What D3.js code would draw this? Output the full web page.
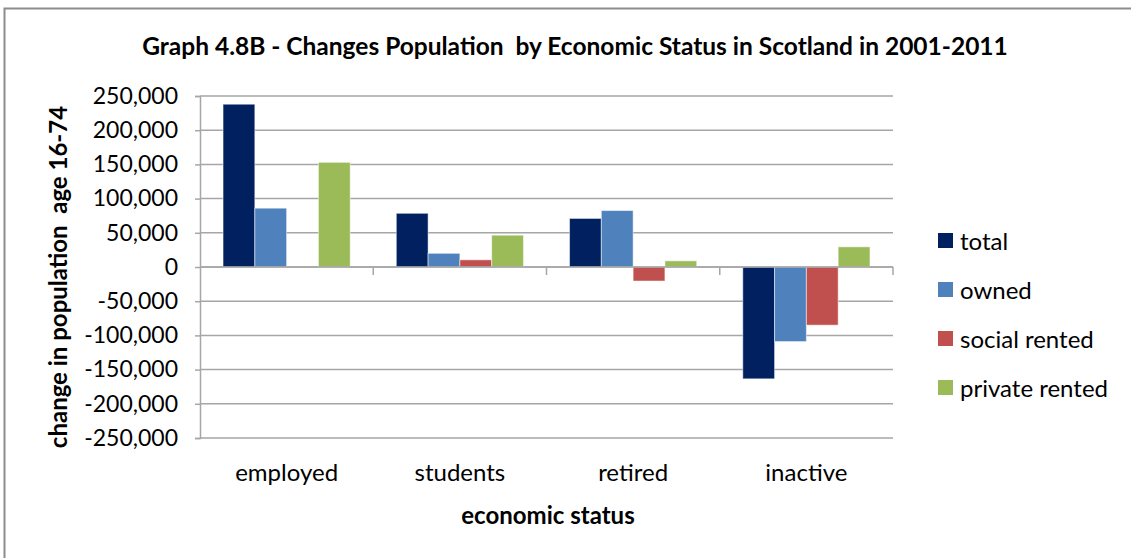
<!DOCTYPE html>
<html>
<head>
<meta charset="utf-8">
<title>Graph 4.8B</title>
<script src="https://d3js.org/d3.v7.min.js"></script>
<style>
  body { margin: 0; background: #fff; }
  text { font-family: Lato, "Open Sans", sans-serif; fill: #000; white-space: pre; }
  .grid line { stroke: #a6a6a6; stroke-width: 1.5px; }
</style>
</head>
<body>
<svg id="chart" width="1131" height="558"></svg>
<script>
// data
const categories = ["employed", "students", "retired", "inactive"];
const seriesNames = ["total", "owned", "social rented", "private rented"];
const seriesColors = ["#002060", "#4f81bd", "#c0504d", "#9bbb59"];
const total = [238000, 78500, 71000, -163500];
const owned = [86000, 20000, 82500, -109000];
const socialRented = [0, 10500, -20500, -85000];
const privateRented = [153000, 46500, 9000, 29500];
const yTicks = [250000, 200000, 150000, 100000, 50000, 0, -50000, -100000, -150000, -200000, -250000];

const series = [total, owned, socialRented, privateRented];

const svg = d3.select("#chart");

// outer frame
svg.append("path")
    .attr("d", "M4.5,558 L4.5,8.5 L1131,8.5")
    .attr("fill", "none")
    .attr("stroke", "#8c8c8c")
    .attr("stroke-width", 2);

const plotLeft = 200, plotRight = 893, plotTop = 96, plotBottom = 438;

const y = d3.scaleLinear().domain([-250000, 250000]).range([plotBottom, plotTop]);
const x0 = d3.scaleBand().domain(categories).range([plotLeft, plotRight]).paddingInner(0.266).paddingOuter(0.133);
const x1 = d3.scaleBand().domain(d3.range(series.length)).range([0, x0.bandwidth()]);

// gridlines
svg.append("g").attr("class", "grid")
    .selectAll("line").data(yTicks).join("line")
    .attr("x1", plotLeft).attr("x2", plotRight)
    .attr("y1", d => y(d)).attr("y2", d => y(d));

// y axis, hyphen minus like the original
const fmt = d3.formatLocale({ decimal: ".", thousands: ",", grouping: [3], currency: ["", ""], minus: "-" }).format(",");
const yAxis = d3.axisLeft(y).tickValues(yTicks).tickSize(5).tickPadding(17).tickFormat(fmt);
const gy = svg.append("g").attr("transform", `translate(${plotLeft},0)`).call(yAxis);
gy.select(".domain").attr("stroke", "#a6a6a6").attr("stroke-width", 1.5);
gy.selectAll(".tick line").attr("stroke", "#a6a6a6").attr("stroke-width", 1.5);
gy.selectAll(".tick text").style("font-size", "23px").style("font-family", "Lato, sans-serif").attr("fill", "#000");

// bars
categories.forEach(function(c, ci) {
    series.forEach(function(s, si) {
        const v = s[ci];
        svg.append("rect")
            .attr("x", x0(c) + x1(si))
            .attr("y", Math.min(y(v), y(0)))
            .attr("width", x1.bandwidth())
            .attr("height", Math.abs(y(v) - y(0)))
            .attr("fill", seriesColors[si])
            .attr("stroke", "#ffffff")
            .attr("stroke-opacity", 0.5)
            .attr("stroke-width", 1);
    });
});

// x axis at zero, ticks at category boundaries
const xLine = svg.append("g");
xLine.append("line")
    .attr("x1", plotLeft).attr("x2", plotRight)
    .attr("y1", y(0)).attr("y2", y(0))
    .attr("stroke", "#a6a6a6").attr("stroke-width", 1.5);
const step = (plotRight - plotLeft) / categories.length;
xLine.selectAll(".xt").data(d3.range(1, categories.length + 1)).join("line")
    .attr("x1", d => plotLeft + d * step).attr("x2", d => plotLeft + d * step)
    .attr("y1", y(0)).attr("y2", y(0) + 8)
    .attr("stroke", "#a6a6a6").attr("stroke-width", 1.5);

// category labels
svg.selectAll(".cat").data(categories).join("text")
    .attr("x", d => x0(d) + x0.bandwidth() / 2)
    .attr("y", 481)
    .attr("text-anchor", "middle")
    .style("font-size", "24px")
    .text(d => d);

// title
svg.append("text")
    .attr("x", 575).attr("y", 55)
    .attr("text-anchor", "middle")
    .style("font-size", "24.5px").style("font-weight", "bold")
    .text("Graph 4.8B - Changes Population  by Economic Status in Scotland in 2001-2011");

// axis titles
svg.append("text")
    .attr("x", 548).attr("y", 524)
    .attr("text-anchor", "middle")
    .style("font-size", "24px").style("font-weight", "bold")
    .text("economic status");

svg.append("text")
    .attr("transform", "translate(67,277) rotate(-90)")
    .attr("text-anchor", "middle")
    .style("font-size", "24px").style("font-weight", "bold")
    .text("change in population  age 16-74");

// legend
const legend = svg.append("g").attr("transform", "translate(938,241)");
seriesNames.forEach(function(n, i) {
    const g = legend.append("g").attr("transform", `translate(0,${i * 49})`);
    g.append("rect").attr("x", 0).attr("y", -8).attr("width", 15).attr("height", 15)
        .attr("fill", seriesColors[i]);
    g.append("text").attr("x", 22).attr("y", 9)
        .style("font-size", "24px")
        .text(n);
});
</script>
</body>
</html>
